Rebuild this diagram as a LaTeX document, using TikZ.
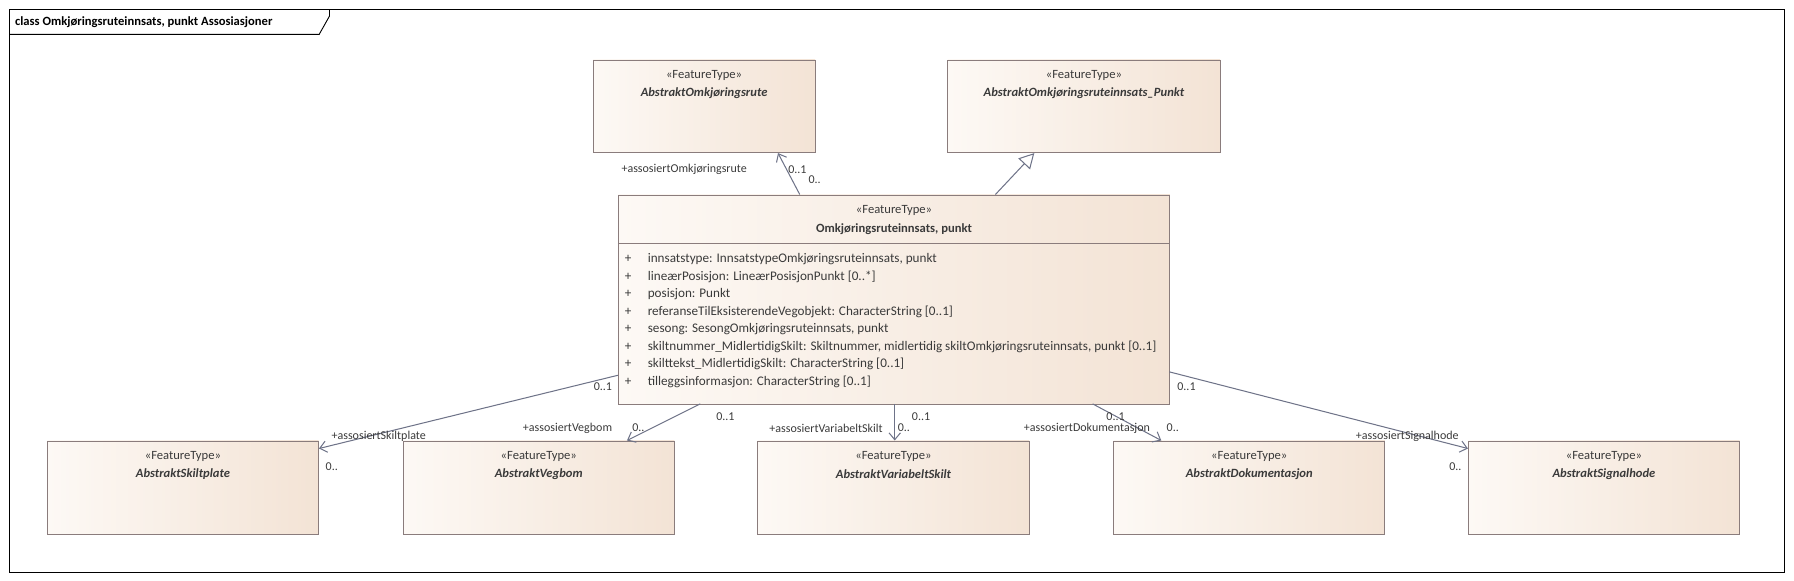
\documentclass[tikz,border=0pt]{standalone}
\usepackage{fontspec}
\setmainfont{Carlito}
\usetikzlibrary{positioning,calc,arrows.meta}
\definecolor{boxline}{HTML}{8A7C7C}
\definecolor{boxfillA}{HTML}{FDF9F5}
\definecolor{boxfillB}{HTML}{F3E3D5}
\definecolor{txt}{HTML}{3A3A3A}
\definecolor{conn}{HTML}{6E7388}
\tikzset{
  cls/.style={draw=boxline, line width=0.8pt, left color=boxfillA, right color=boxfillB, anchor=north west, inner sep=0pt},
  stereo/.style={font=\fontsize{11}{13}\selectfont, text=txt},
  aname/.style={font=\fontsize{11}{13}\selectfont\bfseries\itshape, text=txt},
  attr/.style={font=\fontsize{11.5}{13}\selectfont, text=txt, anchor=west, inner sep=0pt},
  lbl/.style={font=\fontsize{10.5}{12}\selectfont, text=txt, inner sep=0pt},
  assoc/.style={draw=conn, line width=0.9pt, -{Straight Barb[length=6pt,width=10pt]}},
  gen/.style={draw=conn, line width=0.9pt, -{Triangle[open,length=13pt,width=14pt]}}
}
\begin{document}
\begin{tikzpicture}[x=1pt,y=-1pt]
  \useasboundingbox (0,0) rectangle (1568,507);
  % frame and title tab
  \draw[black, line width=0.8pt] (8,8) rectangle (1560,500);
  \draw[black, line width=0.8pt] (8,30) -- (279,30) -- (288,14) -- (288,8);
  \node[anchor=west, inner sep=0pt, font=\fontsize{11}{13}\selectfont\bfseries] (title) at (13,19) {class Omkjøringsruteinnsats, punkt Assosiasjoner};
  % top classes
  \node[cls, minimum width=194pt, minimum height=81pt] (rute) at (518,52) {};
  \node[stereo] at ($(rute.north)+(0,14)$) {«FeatureType»};
  \node[aname] at ($(rute.north)+(0,29)$) {AbstraktOmkjøringsrute};
  \node[cls, minimum width=238pt, minimum height=81pt] (punktA) at (828,52) {};
  \node[stereo] at ($(punktA.north)+(0,14)$) {«FeatureType»};
  \node[aname] at ($(punktA.north)+(0,29)$) {AbstraktOmkjøringsruteinnsats\_Punkt};
  % main class
  \node[cls, minimum width=482pt, minimum height=183pt] (main) at (540,170) {};
  \node[stereo] at ($(main.north)+(0,14)$) {«FeatureType»};
  \node[stereo, font=\fontsize{11}{13}\selectfont\bfseries] at ($(main.north)+(0,30)$) {Omkjøringsruteinnsats, punkt};
  \draw[boxline, line width=0.8pt] (540,213) -- (1022,213);
  \foreach \t [count=\i] in {{innsatstype: InnsatstypeOmkjøringsruteinnsats, punkt},
      {lineærPosisjon: LineærPosisjonPunkt [0..*]},
      {posisjon: Punkt},
      {referanseTilEksisterendeVegobjekt: CharacterString [0..1]},
      {sesong: SesongOmkjøringsruteinnsats, punkt},
      {skiltnummer\_MidlertidigSkilt: Skiltnummer, midlertidig skiltOmkjøringsruteinnsats, punkt [0..1]},
      {skilttekst\_MidlertidigSkilt: CharacterString [0..1]},
      {tilleggsinformasjon: CharacterString [0..1]}}
  {
    \node[attr] at (546,211+15.3*\i) {+};
    \node[attr] at (566,211+15.3*\i) {\t};
  }
  % bottom classes
  \foreach \x/\n/\w in {41/skiltplate/AbstraktSkiltplate, 352/vegbom/AbstraktVegbom,
      662/varskilt/AbstraktVariabeltSkilt, 973/dok/AbstraktDokumentasjon,
      1283/signal/AbstraktSignalhode}
  {
    \node[cls, minimum width=237pt, minimum height=82pt] (\n) at (\x,385) {};
    \node[stereo] at ($(\n.north)+(0,14)$) {«FeatureType»};
    \node[aname] at ($(\n.north)+(0,29)$) {\w};
  }
  % connectors
  \coordinate (mRute) at (699,170);
  \coordinate (mPunkt) at (870,170);
  \coordinate (mSkilt) at (540,328);
  \coordinate (mVeg) at (612,353);
  \coordinate (mVar) at (782,353);
  \coordinate (mDok) at (955,353);
  \coordinate (mSig) at (1022,325);
  \draw[assoc] (mRute) -- (rute.south -| 680,0);
  \draw[gen] (mPunkt) -- (punktA.south -| 904,0);
  \draw[assoc] (mSkilt) -- (skiltplate.east |- 0,392);
  \draw[assoc] (mVeg) -- (vegbom.north -| 548,0);
  \draw[assoc] (mVar) -- (varskilt.north -| 782,0);
  \draw[assoc] (mDok) -- (dok.north -| 1015,0);
  \draw[assoc] (mSig) -- (signal.west |- 0,392);
  % role labels
  \node[lbl] at (598,148) {+assosiertOmkjøringsrute};
  \node[lbl] at (697,148) {0..1};
  \node[lbl] at (712,157) {0..};
  \node[lbl] at (527,338) {0..1};
  \node[lbl] at (331,381) {+assosiertSkiltplate};
  \node[lbl] at (290,408) {0..};
  \node[lbl] at (634,364) {0..1};
  \node[lbl] at (496,374) {+assosiertVegbom};
  \node[lbl] at (558,374) {0..};
  \node[lbl] at (805,364) {0..1};
  \node[lbl] at (722,374) {+assosiertVariabeltSkilt};
  \node[lbl] at (790,374) {0..};
  \node[lbl] at (975,364) {0..1};
  \node[lbl] at (950,374) {+assosiertDokumentasjon};
  \node[lbl] at (1025,374) {0..};
  \node[lbl] at (1037,338) {0..1};
  \node[lbl] at (1230,381) {+assosiertSignalhode};
  \node[lbl] at (1272,408) {0..};
\end{tikzpicture}
\end{document}
